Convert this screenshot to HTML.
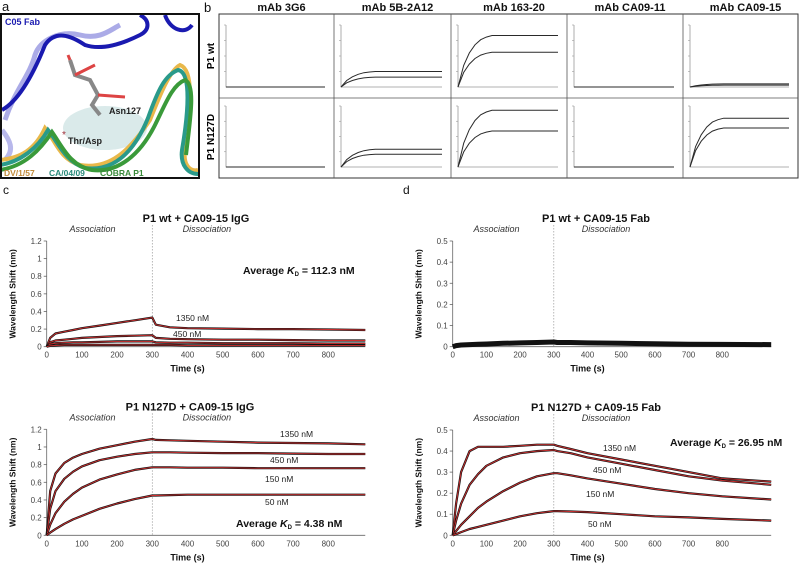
<!DOCTYPE html>
<html><head><meta charset="utf-8"><style>
html,body{margin:0;padding:0;background:#fff;}
svg{display:block;font-family:"Liberation Sans",Arial,sans-serif;}
.tk{font-size:8px;fill:#444;}
.tt{font-size:11px;font-weight:bold;fill:#111;}
.it{font-size:9px;font-style:italic;fill:#333;}
.cl{font-size:8.5px;fill:#222;}
</style></head><body>
<svg id="fig" width="800" height="564" viewBox="0 0 800 564">
<g>
<text x="2" y="11" font-size="13" fill="#111">a</text>
<rect x="1" y="14" width="198" height="164" fill="#fff"/>
<ellipse cx="105" cy="128" rx="42" ry="22" fill="#bcd8d8" opacity="0.55"/>
<path d="M5,120 C15,90 30,75 35,55 C40,40 60,30 80,35 C100,40 110,30 120,25" stroke="#8888dd" stroke-width="5" fill="none" opacity="0.7"/>
<path d="M2,110 C20,100 35,70 45,45 C55,30 70,35 85,45 C100,50 120,45 140,35 C150,30 150,20 140,15" stroke="#1a1ab0" stroke-width="4" fill="none"/>
<path d="M165,15 C170,30 185,35 192,25" stroke="#1a1ab0" stroke-width="4" fill="none"/>
<path d="M2,130 C10,140 15,150 5,160" stroke="#8888dd" stroke-width="5" fill="none" opacity="0.6"/>
<path d="M70,60 L75,75 L90,80 L98,95 L92,105 L100,115" stroke="#888" stroke-width="4" fill="none"/>
<path d="M70,60 L68,55 M75,75 L95,65 M98,95 L125,97" stroke="#d44" stroke-width="3" fill="none"/>
<path d="M0,160 C20,158 35,150 45,128 C55,140 60,160 80,165 C110,170 130,150 150,120 C160,95 170,70 180,65 C195,70 190,110 185,150 C183,165 190,172 198,170" stroke="#e8b84a" stroke-width="4" fill="none"/>
<path d="M0,165 C20,162 38,148 48,130 C58,142 65,162 85,168 C115,172 135,150 148,118 C158,90 165,75 178,70 C192,72 188,115 182,150 C180,165 188,174 198,174" stroke="#2a9a8a" stroke-width="4" fill="none"/>
<path d="M0,170 C25,166 40,150 52,132 C62,146 70,166 92,170 C118,173 140,155 155,125 C165,105 172,85 185,80 C196,85 190,120 186,155" stroke="#3a9a3a" stroke-width="4" fill="none"/>
<text x="5" y="25" font-size="9" font-weight="bold" fill="#1a1ab0">C05 Fab</text>
<text x="109" y="114" font-size="9" font-weight="bold" fill="#222">Asn127</text>
<text x="62" y="138" font-size="10" fill="#a0303a">*</text>
<text x="68" y="144" font-size="9" font-weight="bold" fill="#222">Thr/Asp</text>
<text x="4" y="176" font-size="8.5" font-weight="bold" fill="#c08a3a">DV/1/57</text>
<text x="49" y="176" font-size="8.5" font-weight="bold" fill="#2a8a7a">CA/04/09</text>
<text x="100" y="176" font-size="8.5" font-weight="bold" fill="#3a8a3a">COBRA P1</text>
<rect x="1" y="14" width="198" height="164" fill="none" stroke="#111" stroke-width="2"/>
</g>
<g id="pb">
<text x="204" y="12" font-size="13" fill="#111">b</text>
<rect x="219" y="14" width="579" height="164" fill="none" stroke="#333" stroke-width="1"/>
<line x1="219" y1="98" x2="798" y2="98" stroke="#555" stroke-width="0.8"/>
<text transform="translate(214,56) rotate(-90)" text-anchor="middle" font-size="10" font-weight="bold">P1 wt</text>
<text transform="translate(214,137) rotate(-90)" text-anchor="middle" font-size="10" font-weight="bold">P1 N127D</text>
</g>
<text x="3" y="194" font-size="12" fill="#111">c</text>
<text x="403" y="194" font-size="12" fill="#111">d</text>
<g id="charts"></g>
</svg>
<script>
const NS="http://www.w3.org/2000/svg";
const fig=document.getElementById('fig');
function mk(tag,attrs,parent,txt){const e=document.createElementNS(NS,tag);for(const k in attrs)e.setAttribute(k,attrs[k]);if(txt!==undefined)e.textContent=txt;(parent||fig).appendChild(e);return e;}

// ---- Panel b data ----
const bAntibodies=["mAb 3G6","mAb 5B-2A12","mAb 163-20","mAb CA09-11","mAb CA09-15"];
const bWtHigh=[0,0.25,0.83,0,0.05];
const bWtLow=[0,0.16,0.56,0,0.03];
const bMutHigh=[0,0.29,0.93,0,0.8];
const bMutLow=[0,0.21,0.59,0,0.64];
const bAssocShape=[0,0.42,0.66,0.82,0.92,0.97,1];

// ---- Panel c/d data ----
const timePtsC=[0,10,25,50,75,100,150,200,250,300,310,350,400,500,600,700,800,905];
const timePtsD=[0,10,25,50,75,100,150,200,250,300,310,350,400,500,600,700,800,945];
const concLabels=["1350 nM","450 nM","150 nM","50 nM"];
const cTop1350=[0,0.1,0.15,0.17,0.19,0.21,0.24,0.27,0.3,0.33,0.25,0.22,0.21,0.205,0.2,0.2,0.195,0.19];
const cTop450=[0,0.05,0.07,0.08,0.09,0.1,0.11,0.12,0.125,0.13,0.1,0.09,0.085,0.08,0.08,0.075,0.07,0.07];
const cTop150=[0,0.03,0.04,0.045,0.05,0.05,0.055,0.06,0.06,0.06,0.05,0.045,0.045,0.04,0.04,0.04,0.035,0.035];
const cTop50=[0,0.01,0.015,0.02,0.02,0.02,0.02,0.02,0.02,0.02,0.02,0.02,0.015,0.015,0.015,0.015,0.015,0.015];
const cBot1350=[0,0.5,0.7,0.82,0.88,0.92,0.98,1.02,1.06,1.09,1.08,1.075,1.07,1.06,1.05,1.045,1.04,1.03];
const cBot450=[0,0.3,0.5,0.64,0.72,0.78,0.85,0.89,0.92,0.94,0.94,0.94,0.935,0.93,0.93,0.925,0.92,0.92];
const cBot150=[0,0.12,0.25,0.38,0.47,0.54,0.63,0.69,0.74,0.77,0.77,0.77,0.765,0.765,0.76,0.76,0.76,0.76];
const cBot50=[0,0.03,0.07,0.13,0.18,0.22,0.3,0.36,0.41,0.45,0.45,0.455,0.46,0.46,0.46,0.46,0.46,0.46];
const dTopAll=[0,0.005,0.008,0.01,0.012,0.013,0.016,0.018,0.02,0.022,0.02,0.02,0.018,0.016,0.014,0.012,0.011,0.01];
const dBot1350=[0,0.15,0.3,0.4,0.42,0.42,0.42,0.425,0.43,0.43,0.425,0.41,0.39,0.36,0.33,0.3,0.27,0.255];
const dBot450=[0,0.07,0.15,0.24,0.29,0.33,0.37,0.39,0.4,0.405,0.4,0.39,0.37,0.34,0.31,0.28,0.26,0.24];
const dBot150=[0,0.02,0.05,0.09,0.13,0.16,0.21,0.25,0.28,0.295,0.295,0.285,0.27,0.245,0.22,0.2,0.185,0.17];
const dBot50=[0,0.005,0.015,0.03,0.04,0.05,0.07,0.09,0.105,0.115,0.115,0.113,0.11,0.1,0.09,0.085,0.078,0.07];
const xTicks=[0,100,200,300,400,500,600,700,800];
const yTicksIgG=[0,0.2,0.4,0.6,0.8,1,1.2];
const yTicksFab=[0,0.1,0.2,0.3,0.4,0.5];

const pb=document.getElementById('pb');
const colX=[219,334,451,567,683,798];
function drawMini(col,rowTop,base,hi,lo){
  const x0=colX[col]+7,x1=colX[col+1]-9,h=base-rowTop;
  const ax=mk('path',{d:`M${x0},${rowTop} L${x0},${base} L${x1},${base}`,stroke:'#999','stroke-width':0.8,fill:'none'},pb);
  
  
  for(let k=1;k<=4;k++){mk('line',{x1:x0-2,x2:x0,y1:base-h*k/4,y2:base-h*k/4,stroke:'#999','stroke-width':0.6},pb);}
  const xc=x0+(x1-x0)*0.34;
  [hi,lo].forEach((v,i)=>{
    let d='';
    bAssocShape.forEach((s,j)=>{const x=x0+(xc-x0)*j/(bAssocShape.length-1);const y=base-h*v*s;d+=(j?'L':'M')+x.toFixed(1)+','+y.toFixed(1);});
    d+=`L${x1},${(base-h*v).toFixed(1)}`;
    const p=mk('path',{d:d,stroke:'#2a2a2a','stroke-width':1,fill:'none'},pb);
    
    
  });
}
bAntibodies.forEach((name,i)=>{
  const t=mk('text',{x:(colX[i]+colX[i+1])/2+5,y:11,'text-anchor':'middle','font-size':11,'font-weight':'bold',fill:'#111'},pb,name);
  
  
  if(i>0){const l=mk('line',{x1:colX[i],y1:14,x2:colX[i],y2:178,stroke:'#555','stroke-width':0.8},pb);
    
    }
  drawMini(i,25,87,bWtHigh[i],bWtLow[i]);
  drawMini(i,106,167,bMutHigh[i],bMutLow[i]);
});

const charts=document.getElementById('charts');
function chart(cfg){
  const g=mk('g',{},charts);
  
  
  const X=t=>cfg.x0+t*cfg.sx;
  const Y=v=>cfg.yb-(v/cfg.ymax)*(cfg.yb-cfg.yt);
  const tp=cfg.time;
  const xEnd=X(tp[tp.length-1]);
  mk('text',{x:cfg.tx,y:cfg.yt-19,'text-anchor':'middle',class:'tt'},g,cfg.title);
  mk('text',{x:X(130),y:cfg.yt-9,'text-anchor':'middle',class:'it'},g,'Association');
  mk('text',{x:X(455),y:cfg.yt-9,'text-anchor':'middle',class:'it'},g,'Dissociation');
  const ax=mk('path',{d:`M${cfg.x0},${cfg.yt} L${cfg.x0},${cfg.yb} L${xEnd},${cfg.yb}`,stroke:'#666','stroke-width':0.8,fill:'none'},g);
  
  
  cfg.yTicks.forEach(v=>{
    mk('line',{x1:cfg.x0-3,y1:Y(v),x2:cfg.x0,y2:Y(v),stroke:'#666','stroke-width':0.8},g);
    const t=mk('text',{x:cfg.x0-5,y:Y(v)+3,'text-anchor':'end',class:'tk'},g,String(v));
    
    
  });
  xTicks.forEach(v=>{
    const t=mk('text',{x:X(v),y:cfg.yb+11,'text-anchor':'middle',class:'tk'},g,String(v));
    
    
  });
  const yt=mk('text',{transform:`translate(${cfg.x0-31},${(cfg.yt+cfg.yb)/2}) rotate(-90)`,'text-anchor':'middle','font-size':8.5,'font-weight':'bold',fill:'#111'},g,'Wavelength Shift (nm)');
  
  
  const xt=mk('text',{x:X(400),y:cfg.yb+25,'text-anchor':'middle','font-size':9,'font-weight':'bold',fill:'#111'},g,'Time (s)');
  
  
  const dv=mk('line',{x1:X(300),y1:cfg.yt-16,x2:X(300),y2:cfg.yb,stroke:'#999','stroke-width':0.7,'stroke-dasharray':'1.5,1.5'},g);
  
  
  cfg.series.forEach((s,i)=>{
    let d='';
    tp.forEach((t,j)=>{d+=(j?'L':'M')+X(t).toFixed(1)+','+Y(s[j]).toFixed(1);});
    const b=mk('path',{d:d,stroke:'#111','stroke-width':cfg.bw||2.2,fill:'none','stroke-linejoin':'round'},g);
    
    
    if(!cfg.nofit){const r=mk('path',{d:d,stroke:'#d03030','stroke-width':0.9,fill:'none'},g);
      
      }
  });
  (cfg.labels||[]).forEach(l=>{
    const t=mk('text',{x:l[0],y:l[1],class:'cl'},g,l[2]);
    
    
  });
  if(cfg.kd){
    const t=mk('text',{x:cfg.kd[0],y:cfg.kd[1],'font-size':10.5,'font-weight':'bold',fill:'#111'},g);
    
    
    t.innerHTML='Average <tspan font-style="italic">K</tspan><tspan font-size="6" dy="2">D</tspan><tspan dy="-2"> = '+cfg.kd[2]+'</tspan>';
  }
}
chart({name:'chart-c-top',title:'P1 wt + CA09-15 IgG',tx:196,x0:46.7,sx:0.352,yt:241,yb:346.7,ymax:1.2,yTicks:yTicksIgG,time:timePtsC,
  series:[cTop1350,cTop450,cTop150,cTop50],labels:[[176,321,concLabels[0]],[173,337,concLabels[1]]],kd:[243,274,'112.3 nM']});
chart({name:'chart-c-bottom',title:'P1 N127D + CA09-15 IgG',tx:190,x0:46.7,sx:0.352,yt:429.3,yb:535.3,ymax:1.2,yTicks:yTicksIgG,time:timePtsC,
  series:[cBot1350,cBot450,cBot150,cBot50],labels:[[280,437,concLabels[0]],[270,463,concLabels[1]],[265,482,concLabels[2]],[265,505,concLabels[3]]],kd:[236,527,'4.38 nM']});
chart({name:'chart-d-top',title:'P1 wt + CA09-15 Fab',tx:596,x0:452.7,sx:0.337,yt:241,yb:346.7,ymax:0.5,yTicks:yTicksFab,time:timePtsD,
  series:[dTopAll],nofit:true,bw:5});
chart({name:'chart-d-bottom',title:'P1 N127D + CA09-15 Fab',tx:596,x0:452.7,sx:0.337,yt:430,yb:535.3,ymax:0.5,yTicks:yTicksFab,time:timePtsD,
  series:[dBot1350,dBot450,dBot150,dBot50],labels:[[603,451,concLabels[0]],[593,473,concLabels[1]],[586,497,concLabels[2]],[588,527,concLabels[3]]],kd:[670,446,'26.95 nM']});
</script>
</body></html>
